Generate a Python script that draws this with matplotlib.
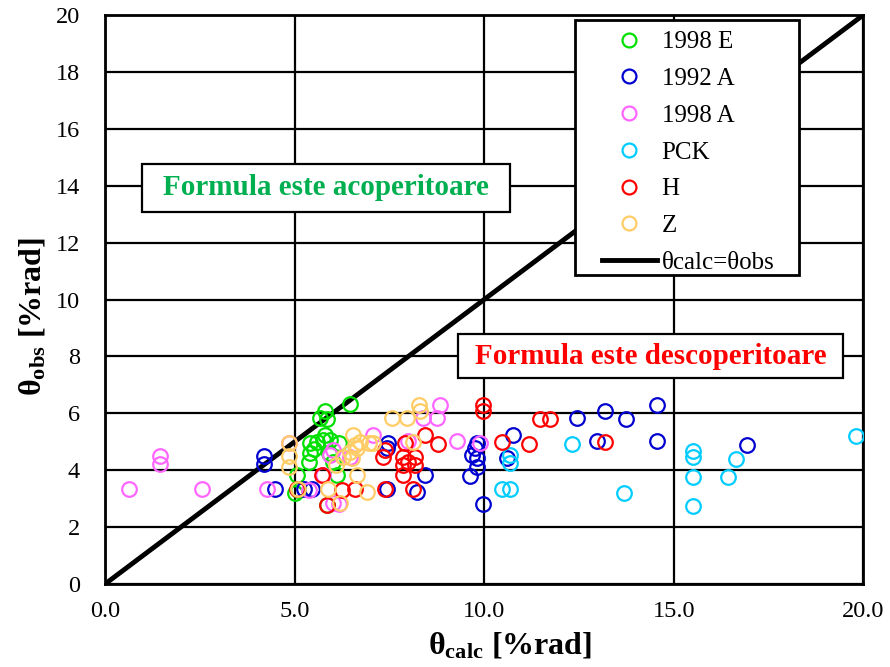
import matplotlib
matplotlib.use("Agg")
import matplotlib.pyplot as plt
from matplotlib.lines import Line2D
from matplotlib.patches import Rectangle

plt.rcParams['font.family'] = ['Liberation Serif', 'DejaVu Serif']
plt.rcParams['mathtext.fontset'] = 'custom'
plt.rcParams['mathtext.rm'] = 'Liberation Serif'
plt.rcParams['mathtext.it'] = 'Liberation Serif:italic'
plt.rcParams['mathtext.bf'] = 'Liberation Serif:bold'

# ---- data ----
e98_x = [6.46, 5.80, 5.67, 5.85, 5.80, 5.58, 5.76, 5.94, 6.16, 5.41, 5.41, 5.37, 5.06, 6.11, 5.10, 5.85, 5.02, 5.90, 6.00, 5.50]
e98_y = [6.33, 6.09, 5.82, 5.79, 5.24, 5.00, 5.06, 5.06, 4.94, 4.94, 4.59, 4.30, 3.83, 3.83, 3.30, 2.78, 3.20, 4.60, 4.30, 4.75]

a92_x = [4.20, 4.20, 4.49, 5.25, 5.45, 7.47, 7.43, 7.43, 8.22, 8.44, 9.80, 9.76, 9.67, 9.80, 9.80, 9.63, 9.98, 10.77, 10.60, 12.44, 13.19, 13.74, 12.97, 14.55, 14.55, 16.92]
a92_y = [4.51, 4.22, 3.33, 3.33, 3.33, 4.94, 4.77, 3.33, 3.24, 3.83, 4.94, 4.77, 4.53, 4.42, 4.12, 3.80, 2.80, 5.24, 4.42, 5.82, 6.09, 5.79, 5.03, 6.29, 5.03, 4.90]

a98_x = [0.62, 1.45, 1.45, 2.57, 4.27, 4.84, 7.08, 8.84, 8.75, 8.40, 9.28, 8.00, 6.02, 5.94, 6.46, 6.02, 5.76, 5.37, 9.90, 6.17]
a98_y = [3.33, 4.51, 4.22, 3.33, 3.33, 4.94, 5.24, 6.29, 5.82, 5.82, 5.04, 5.04, 4.71, 4.53, 4.47, 2.84, 3.83, 3.30, 4.94, 2.80]

pck_x = [12.31, 10.69, 10.69, 10.46, 10.69, 13.68, 15.50, 15.50, 15.50, 15.50, 16.42, 16.64, 19.82]
pck_y = [4.92, 4.53, 4.24, 3.33, 3.33, 3.21, 4.68, 4.47, 3.75, 2.74, 3.75, 4.38, 5.19]

h_x = [9.96, 9.96, 11.48, 11.74, 10.46, 11.17, 13.19, 8.44, 8.79, 7.92, 7.39, 7.34, 7.87, 8.18, 7.87, 8.18, 7.87, 8.13, 7.39, 6.60, 6.24, 5.72, 5.85, 5.06, 8.00]
h_y = [6.29, 6.09, 5.79, 5.79, 5.00, 4.92, 5.00, 5.24, 4.92, 4.94, 4.71, 4.47, 4.47, 4.47, 4.18, 4.18, 3.83, 3.33, 3.33, 3.33, 3.30, 3.83, 2.78, 3.33, 4.30]

z_x = [4.84, 4.84, 4.84, 8.27, 8.31, 7.56, 7.96, 6.55, 6.73, 6.95, 7.08, 6.64, 6.46, 6.51, 6.29, 8.13, 6.64, 5.89, 6.90, 6.20, 5.10, 6.10, 6.60]
z_y = [4.94, 4.51, 4.12, 6.29, 6.09, 5.82, 5.82, 5.24, 5.00, 4.94, 4.94, 4.77, 4.65, 4.42, 4.47, 5.00, 3.83, 3.33, 3.24, 2.84, 3.33, 4.20, 4.90]

series = [
    ("1998 E", e98_x, e98_y, "#00E000"),
    ("1992 A", a92_x, a92_y, "#0000D0"),
    ("1998 A", a98_x, a98_y, "#FF66FF"),
    ("PCK", pck_x, pck_y, "#00CCFF"),
    ("H", h_x, h_y, "#FF0000"),
    ("Z", z_x, z_y, "#FFCC66"),
]

line_x = [0, 20]
line_y = [0, 20]

fig = plt.figure(figsize=(8.9, 6.67), dpi=100)
ax = fig.add_axes([0.118, 0.1244, 0.852, 0.8531])

ax.set_xlim(0, 20)
ax.set_ylim(0, 20)
ax.set_xticks([0, 5, 10, 15, 20])
ax.set_xticklabels(["0.0", "5.0", "10.0", "15.0", "20.0"])
ax.set_yticks(range(0, 21, 2))
ax.tick_params(length=0, labelsize=17.5)
ax.tick_params(axis='x', pad=12)
ax.tick_params(axis='y', pad=18)
ax.grid(True, color='black', linewidth=1.6)
ax.set_axisbelow(True)
for s in ax.spines.values():
    s.set_linewidth(2)
    s.set_color('black')

handles = []
for name, xs, ys, col in series:
    ax.plot(xs, ys, linestyle='none', marker='o', markersize=10.5,
            markerfacecolor='none', markeredgecolor=col, markeredgewidth=1.6,
            zorder=3)
    handles.append(Line2D([], [], linestyle='none', marker='o', markersize=10,
                          markerfacecolor='none', markeredgecolor=col,
                          markeredgewidth=1.6, label=name))

ax.plot(line_x, line_y, color='black', linewidth=3.5, zorder=2.5)
handles.append(Line2D([], [], color='black', linewidth=3.5, label='θcalc=θobs'))

# legend frame
ax.add_patch(Rectangle((0.620, 0.543), 0.2956, 0.448, transform=ax.transAxes,
                       facecolor='white', edgecolor='black', linewidth=2, zorder=4))
leg = ax.legend(handles=handles, loc='upper left', bbox_to_anchor=(0.655, 0.972),
                fontsize=18, frameon=False, labelspacing=0.57, handlelength=2.2,
                borderpad=0, handletextpad=0.2, borderaxespad=0)
leg.set_zorder(5)

# annotation boxes
ax.add_patch(Rectangle((0.976, 13.08), 9.71, 1.68, facecolor='white',
                       edgecolor='black', linewidth=1.6, zorder=5))
ax.text(5.83, 13.92, "Formula este acoperitoare", color='#00B050', fontsize=21,
        fontweight='bold', ha='center', va='center', zorder=6)
ax.add_patch(Rectangle((9.31, 7.24), 10.16, 1.55, facecolor='white',
                       edgecolor='black', linewidth=1.6, zorder=5))
ax.text(14.39, 8.01, "Formula este descoperitoare", color='#FF0000', fontsize=21,
        fontweight='bold', ha='center', va='center', zorder=6)

ax.set_xlabel(r'θ$_{\mathbf{calc}}$ [%rad]', fontsize=23, fontweight='bold')
ax.set_ylabel(r'θ$_{\mathbf{obs}}$ [%rad]', fontsize=23, fontweight='bold')
ax.xaxis.set_label_coords(0.534, -0.082)
ax.yaxis.set_label_coords(-0.076, 0.47)

fig.savefig("out.png", dpi=100)
